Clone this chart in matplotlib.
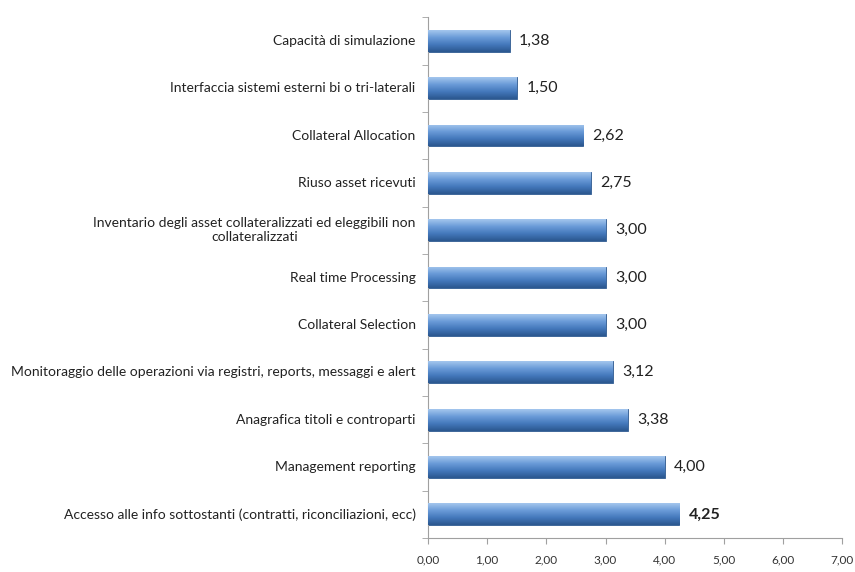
import numpy as np
import matplotlib.pyplot as plt
from matplotlib.colors import LinearSegmentedColormap

categories = [
    "Capacità di simulazione",
    "Interfaccia sistemi esterni bi o tri-laterali",
    "Collateral Allocation",
    "Riuso asset ricevuti",
    "Inventario degli asset collateralizzati ed eleggibili non\ncollateralizzati",
    "Real time Processing",
    "Collateral Selection",
    "Monitoraggio delle operazioni via registri, reports, messaggi e alert",
    "Anagrafica titoli e controparti",
    "Management reporting",
    "Accesso alle info sottostanti (contratti, riconciliazioni, ecc)",
]
values = [1.38, 1.50, 2.62, 2.75, 3.00, 3.00, 3.00, 3.12, 3.38, 4.00, 4.25]
xticks = [0, 1, 2, 3, 4, 5, 6, 7]

plt.rcParams['font.family'] = ['Lato', 'DejaVu Sans']

fig = plt.figure(figsize=(8.55, 5.72), dpi=100)
ax = fig.add_axes([0.5006, 0.0594, 0.4844, 0.9106])

ypos = np.arange(len(categories))
bar_h = 0.46
grad = LinearSegmentedColormap.from_list("bar", ["#a4c6ee", "#6a9bd8", "#4478bb", "#2b578f"])
gimg = np.linspace(0, 1, 64).reshape(-1, 1)

bars = ax.barh(ypos, values, height=bar_h, color="#4a7ebb", edgecolor="#2f5a90", linewidth=0.6, zorder=2)
for b in bars:
    x0, y0 = b.get_x(), b.get_y()
    im = ax.imshow(gimg, cmap=grad, aspect='auto', extent=[x0, x0 + b.get_width(), y0 + b.get_height(), y0],
                   zorder=3, interpolation='bicubic')
    im.set_clip_path(b)

for y, v in zip(ypos, values):
    ax.text(v + 0.16, y, f"{v:.2f}".replace(".", ","), va='center', ha='left', fontsize=11.5,
            color='#222222', fontweight='bold' if v == max(values) else 'normal')

# category labels drawn by hand so the two-line one can be centred
for y, cat in zip(ypos, categories):
    ax.annotate(cat, xy=(0, y), xycoords=('axes fraction', 'data'), xytext=(-9, 0),
                textcoords='offset points', ha='right', va='center', multialignment='center',
                fontsize=10, color='#222222')

ax.set_xlim(0, 7)
ax.set_ylim(len(categories) - 0.5, -0.5)
ax.set_xticks(xticks)
ax.set_xticklabels([f"{t:.2f}".replace(".", ",") for t in xticks], fontsize=8.5, color='#333333')
ax.set_yticks([])
ax.set_yticks(np.arange(len(categories) + 1) - 0.5, minor=True)
ax.tick_params(axis='y', which='minor', length=4, color='#a0a0a0', direction='out', labelleft=False)
ax.tick_params(axis='x', length=4, color='#a0a0a0', direction='out', pad=8)

for s in ['top', 'right']:
    ax.spines[s].set_visible(False)
for s in ['left', 'bottom']:
    ax.spines[s].set_color('#a0a0a0')
    ax.spines[s].set_linewidth(0.8)

fig.savefig("out.png", dpi=100)
